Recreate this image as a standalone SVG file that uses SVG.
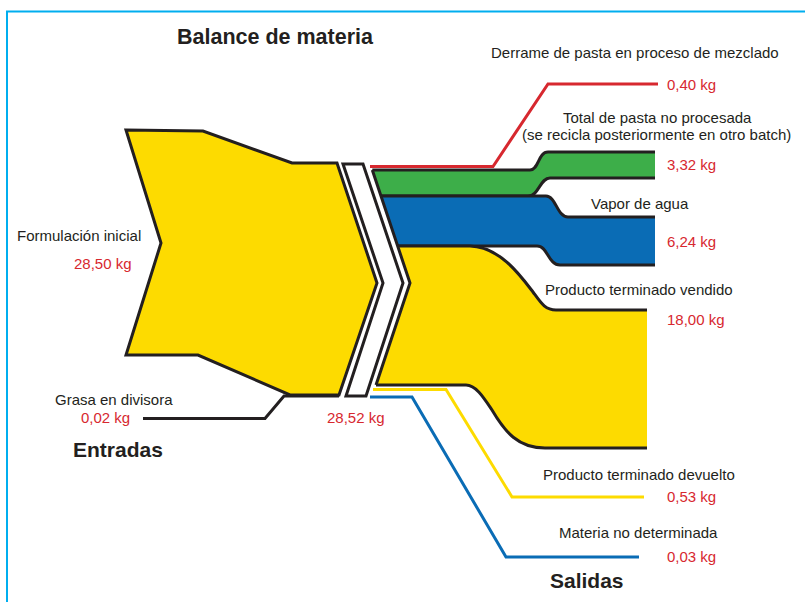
<svg xmlns="http://www.w3.org/2000/svg" width="805" height="602" viewBox="0 0 805 602">
<style>
.t{font-family:"Liberation Sans",Arial,sans-serif;font-size:15px;fill:#231F20}
.r{font-family:"Liberation Sans",Arial,sans-serif;font-size:15px;fill:#D7282F}
.h{font-family:"Liberation Sans",Arial,sans-serif;font-size:21px;font-weight:bold;fill:#231F20}
.ol{fill:none;stroke:#231F20;stroke-width:3;stroke-linejoin:miter}
.yf{fill:#FDDB00}
</style>
<rect width="805" height="602" fill="#fff"/>
<path d="M805,11.5 H7 V602" fill="none" stroke="#00AEEF" stroke-width="2"/>

<text class="h" x="177" y="44" style="font-size:21.5px">Balance de materia</text>

<g id="input-formulacion">
<path class="yf" d="M126,130 L203,131 L292,163 L337,163 L377,283 L339,395 L290,395 L198,355 L126,355 L161,243 Z" stroke="#231F20" stroke-width="3" stroke-linejoin="miter"/>
<text class="t" x="17" y="241">Formulación inicial</text>
<text class="r" x="74" y="269">28,50 kg</text>
</g>

<g id="input-grasa">
<text class="t" x="55" y="405">Grasa en divisora</text>
<text class="r" x="81" y="423">0,02 kg</text>
</g>

<g id="entradas"><text class="h" x="73" y="457">Entradas</text></g>

<g id="mezclado">
<path d="M343,164 L363,164 L403,283 L366,396 L346,396 L383,283 Z" fill="#fff" stroke="#231F20" stroke-width="3"/>
<text class="r" x="327" y="423">28,52 kg</text>
</g>

<g id="output-pasta">
<path d="M372.3,170 L530,170 C539,170 538,152 548,152 L655,152 L655,178 L550,178 C540,178 539,196 528,196 L381,196 Z" fill="#3DAE49"/>
<path class="ol" d="M372.3,170 L530,170 C539,170 538,152 548,152 L655,152"/>
<path class="ol" d="M381,196 L528,196 C539,196 540,178 550,178 L655,178"/>
<text class="t" x="563" y="123">Total de pasta no procesada</text>
<text class="t" x="522" y="140">(se recicla posteriormente en otro batch)</text>
<text class="r" x="667" y="170">3,32 kg</text>
</g>

<g id="output-vapor">
<path d="M381,196 L546,196 C556,196 557,217 568,217 L655,217 L655,265 L560,265 C548,265 548,246 537,246 L397.7,246 Z" fill="#0A6CB5"/>
<path class="ol" d="M381,196 L546,196 C556,196 557,217 568,217 L655,217"/>
<path class="ol" d="M397.7,246 L537,246 C548,246 548,265 560,265 L655,265"/>
<text class="t" x="591" y="209">Vapor de agua</text>
<text class="r" x="667" y="247">6,24 kg</text>
</g>

<g id="output-producto">
<path class="yf" d="M397.7,246 L470,246 C500,247 520,275 533,292 C541,303 545,310 556,310 L647,310 L647,448 L545,448 C518,448 505,432 492,410 C484,398 476,385 466,385 L376,385 L410,283 Z"/>
<path class="ol" d="M397.7,246 L470,246 C500,247 520,275 533,292 C541,303 545,310 556,310 L647,310"/>
<path class="ol" d="M376,385 L466,385 C476,385 484,398 492,410 C505,432 518,448 545,448 L647,448"/>
<path class="ol" d="M372.3,170 L410,283 L376,385"/>
<text class="t" x="545" y="295">Producto terminado vendido</text>
<text class="r" x="667" y="325">18,00 kg</text>
</g>

<g id="output-derrame">
<text class="t" x="491" y="58">Derrame de pasta en proceso de mezclado</text>
<text class="r" x="667" y="90">0,40 kg</text>
</g>

<g id="output-devuelto">
<text class="t" x="543" y="480">Producto terminado devuelto</text>
<text class="r" x="667" y="502">0,53 kg</text>
</g>

<g id="output-indeterminada">
<text class="t" x="559" y="538">Materia no determinada</text>
<text class="r" x="667" y="562">0,03 kg</text>
</g>

<g id="salidas"><text class="h" x="550" y="588">Salidas</text></g>

<g id="connectors" fill="none" stroke-width="3" stroke-linejoin="miter">
<polyline points="143,418.5 265,418.5 284,396 339,396" stroke="#231F20"/>
<polyline points="370,166.5 493,166.5 548,84 658,84" stroke="#D7282F"/>
<polyline points="373,389.5 446,389.5 512,497 644,497" stroke="#FDDB00"/>
<polyline points="370,397 412,397 506,557 639,557" stroke="#0A6CB5"/>
</g>
</svg>
